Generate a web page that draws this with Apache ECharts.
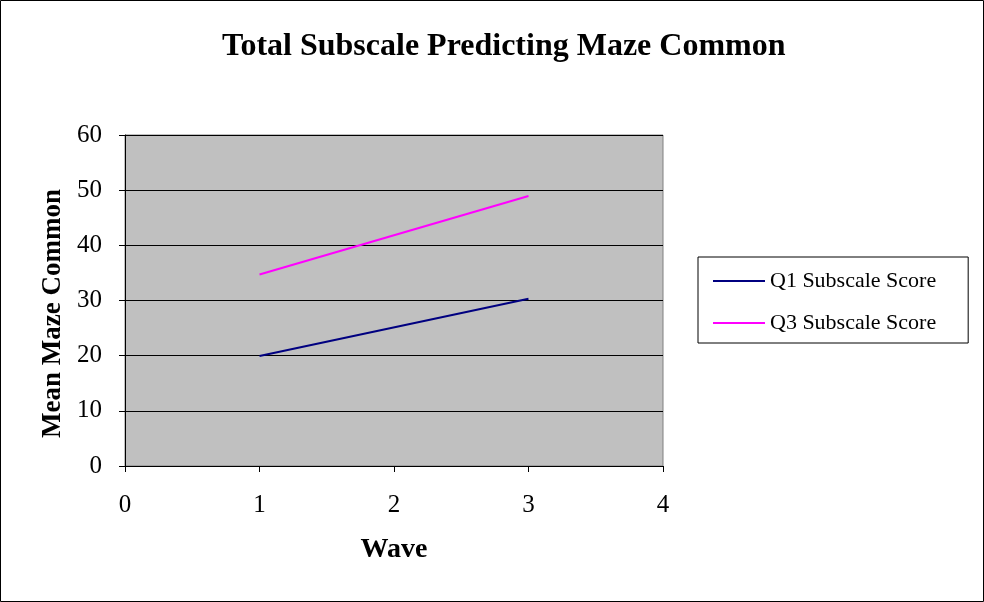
<!DOCTYPE html>
<html>
<head>
<meta charset="utf-8">
<script src="https://cdn.jsdelivr.net/npm/echarts@6/dist/echarts.min.js"></script>
<style>
  html, body { margin: 0; padding: 0; background: #ffffff; }
  #chart { width: 984px; height: 602px; }
</style>
</head>
<body>
<div id="chart"></div>
<script>
// Mean Maze Common score by wave, for two subscale groups
const waves = [1, 3];
const q1Scores = [19.95, 30.3];
const q3Scores = [34.7, 48.95];
const seriesNames = ['Q1 Subscale Score', 'Q3 Subscale Score'];

const serif = '"Liberation Serif", "Times New Roman", serif';

const chart = echarts.init(document.getElementById('chart'));

const toPairs = (xs, ys) => xs.map((x, i) => [x, ys[i]]);

chart.setOption({
  animation: false,
  backgroundColor: '#ffffff',
  title: {
    text: 'Total Subscale Predicting Maze Common',
    left: 217,
    top: 26,
    textStyle: {
      fontFamily: serif,
      fontWeight: 'bold',
      fontSize: 32,
      color: '#000000'
    }
  },
  graphic: [{
    type: 'rect',
    shape: { x: 0.5, y: 0.5, width: 983, height: 601 },
    style: { fill: 'none', stroke: '#000000', lineWidth: 1 },
    silent: true
  }],
  legend: {
    orient: 'vertical',
    left: 698,
    top: 257,
    padding: [13, 32, 9, 15],
    itemGap: 20,
    itemWidth: 52,
    itemHeight: 14,
    borderColor: '#000000',
    borderWidth: 1,
    backgroundColor: '#ffffff',
    icon: 'path://M0,6 L52,6 L52,8 L0,8 Z',
    textStyle: {
      fontFamily: serif,
      fontSize: 22,
      color: '#000000'
    },
    data: seriesNames
  },
  grid: {
    left: 125,
    right: 321,
    top: 135,
    bottom: 136,
    show: true,
    backgroundColor: '#c0c0c0',
    borderColor: '#808080',
    borderWidth: 1
  },
  xAxis: {
    type: 'value',
    min: 0,
    max: 4,
    interval: 1,
    name: 'Wave',
    nameLocation: 'middle',
    nameGap: 70,
    nameTextStyle: {
      fontFamily: serif,
      fontWeight: 'bold',
      fontSize: 28,
      color: '#000000'
    },
    axisLine: { show: true, lineStyle: { color: '#000000', width: 1 } },
    axisTick: { show: true, length: 6, lineStyle: { color: '#000000' } },
    axisLabel: {
      fontFamily: serif,
      fontSize: 25,
      color: '#000000',
      margin: 27
    },
    splitLine: { show: false }
  },
  yAxis: {
    type: 'value',
    min: 0,
    max: 60,
    interval: 10,
    name: 'Mean Maze Common',
    nameLocation: 'middle',
    nameGap: 58,
    nameRotate: 90,
    nameTextStyle: {
      fontFamily: serif,
      fontWeight: 'bold',
      fontSize: 27,
      color: '#000000',
      padding: [0, 26, 0, 0]
    },
    axisLine: { show: true, lineStyle: { color: '#000000', width: 1 } },
    axisTick: { show: true, length: 6, lineStyle: { color: '#000000' } },
    axisLabel: {
      fontFamily: serif,
      fontSize: 25,
      color: '#000000',
      margin: 23
    },
    splitLine: { show: true, lineStyle: { color: '#000000', width: 1 } }
  },
  series: [
    {
      name: seriesNames[0],
      type: 'line',
      data: toPairs(waves, q1Scores),
      symbol: 'none',
      lineStyle: { color: '#000080', width: 2 },
      itemStyle: { color: '#000080' }
    },
    {
      name: seriesNames[1],
      type: 'line',
      data: toPairs(waves, q3Scores),
      symbol: 'none',
      lineStyle: { color: '#ff00ff', width: 2 },
      itemStyle: { color: '#ff00ff' }
    }
  ]
});
</script>
</body>
</html>
